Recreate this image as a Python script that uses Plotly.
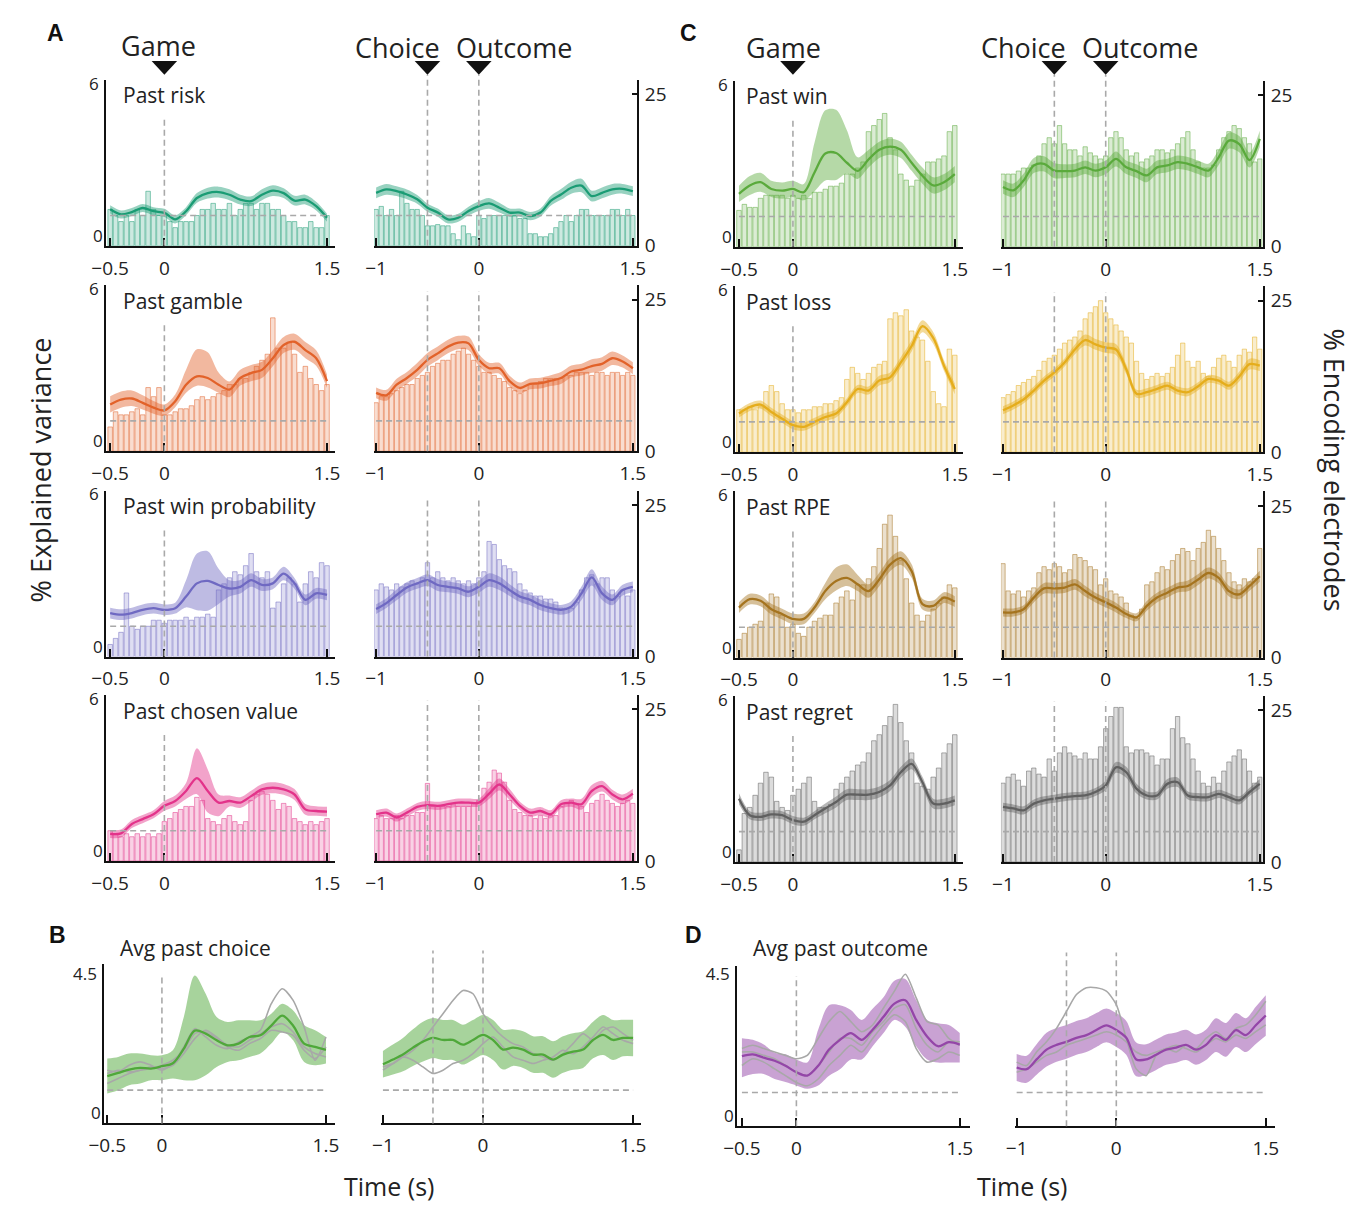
import plotly.graph_objects as go

W, H = 1369, 1215
FONT = "Open Sans"
TXT = "#222222"

LINE_DT = 0.1
BAR_DT = 0.05
GAME_T0 = -0.5
OUT_T0 = -1.0

# ---------------- % explained variance (line, sampled every 0.1 s) ----------------
RISK_G = [1.35,1.16,1.25,1.40,1.28,1.22,0.98,1.28,1.77,1.95,1.99,1.89,1.71,1.65,1.89,2.04,1.95,1.67,1.71,1.47,1.04]
RISK_O = [1.96,2.09,2.02,1.90,1.72,1.41,1.23,0.98,1.04,1.29,1.47,1.57,1.41,1.23,1.23,1.10,1.23,1.66,1.90,2.15,2.23,1.84,1.96,2.09,2.11,2.02]
GAMBLE_G = [1.73,1.91,1.95,1.79,1.61,1.51,1.85,2.46,2.77,2.71,2.46,2.28,2.71,2.89,3.01,3.44,3.93,4.05,3.74,3.44,2.59]
GAMBLE_O = [2.16,2.07,2.46,2.71,3.01,3.38,3.62,3.87,4.02,3.99,3.38,3.07,3.07,2.59,2.34,2.49,2.52,2.61,2.71,2.95,3.02,3.15,3.23,3.44,3.32,3.07]
WINPROB_G = [1.61,1.55,1.61,1.73,1.79,1.73,1.79,2.22,2.71,2.80,2.65,2.52,2.58,2.83,2.65,2.71,3.07,2.71,2.10,2.34,2.28]
WINPROB_O = [1.76,1.98,2.28,2.56,2.71,2.83,2.65,2.58,2.52,2.40,2.58,2.83,2.71,2.46,2.22,2.10,1.91,1.79,1.73,1.85,2.34,2.93,2.34,2.10,2.46,2.58]
CHOSEN_G = [1.00,1.02,1.37,1.55,1.73,2.04,2.22,2.59,3.07,2.59,2.16,2.22,2.16,2.40,2.65,2.71,2.65,2.46,1.91,1.85,1.83]
CHOSEN_O = [1.73,1.79,1.61,1.79,2.00,2.07,2.04,2.10,2.16,2.16,2.16,2.49,2.83,2.46,2.04,1.79,1.85,1.73,2.10,2.16,2.10,2.59,2.77,2.46,2.28,2.49]
WIN_G = [1.96,2.27,2.39,2.14,2.08,2.14,2.02,2.75,3.45,3.47,3.11,2.81,3.23,3.59,3.71,3.59,3.11,2.63,2.27,2.39,2.69]
WIN_O = [2.21,2.09,2.45,3.01,3.07,2.82,2.80,2.82,2.94,2.82,2.94,3.25,2.94,2.80,2.64,2.94,3.01,3.13,3.07,2.94,2.82,3.31,3.93,3.80,3.21,3.99]
LOSS_G = [1.43,1.67,1.76,1.49,1.24,1.00,0.94,1.12,1.30,1.43,1.85,2.34,2.28,2.65,2.77,3.32,3.93,4.66,4.23,3.20,2.34]
LOSS_O = [1.55,1.73,1.95,2.28,2.65,2.95,3.32,3.80,4.15,3.99,3.87,3.80,3.07,2.16,2.22,2.34,2.46,2.28,2.22,2.44,2.71,2.65,2.46,2.80,3.26,3.20]
RPE_G = [1.85,2.16,2.10,1.79,1.61,1.43,1.43,1.85,2.46,2.83,2.95,2.71,2.46,2.89,3.44,3.68,3.20,1.98,1.91,2.22,2.07]
RPE_O = [1.67,1.67,1.79,2.22,2.56,2.56,2.59,2.71,2.46,2.22,2.04,1.85,1.61,1.49,1.91,2.22,2.40,2.59,2.65,2.89,3.13,2.95,2.46,2.34,2.65,3.01]
REGRET_G = [2.34,1.73,1.67,1.76,1.73,1.55,1.49,1.73,1.98,2.22,2.49,2.49,2.49,2.59,2.83,3.32,3.63,2.95,2.16,2.16,2.28]
REGRET_O = [2.04,1.98,1.91,2.16,2.28,2.34,2.40,2.44,2.46,2.59,2.83,3.50,3.32,2.71,2.46,2.46,2.89,2.95,2.46,2.40,2.40,2.52,2.40,2.28,2.59,2.89]

# ---------------- error band (upper / lower offsets) ----------------
RISK_G_ERR = [0.15,0.15,0.15,0.15,0.15,0.15,0.15,0.15,0.18,0.2,0.2,0.2,0.18,0.18,0.2,0.2,0.18,0.18,0.18,0.16,0.15]
RISK_O_ERR = [0.2,0.2,0.18,0.18,0.16,0.15,0.15,0.15,0.15,0.16,0.18,0.2,0.18,0.15,0.15,0.15,0.15,0.18,0.2,0.22,0.25,0.2,0.2,0.2,0.18,0.18]
GAMBLE_G_UP = [0.3,0.3,0.3,0.28,0.25,0.22,0.25,0.55,1.0,0.95,0.45,0.3,0.3,0.3,0.3,0.3,0.3,0.3,0.3,0.3,0.25]
GAMBLE_G_DN = [0.3,0.3,0.28,0.25,0.22,0.2,0.22,0.3,0.35,0.35,0.3,0.28,0.28,0.3,0.3,0.3,0.3,0.3,0.3,0.28,0.25]
GAMBLE_O_ERR = [0.2,0.2,0.22,0.22,0.25,0.25,0.25,0.25,0.25,0.25,0.22,0.2,0.2,0.2,0.2,0.2,0.2,0.2,0.22,0.22,0.22,0.25,0.25,0.25,0.22,0.22]
WINPROB_G_UP = [0.2,0.2,0.2,0.2,0.2,0.2,0.2,0.6,1.1,1.1,0.6,0.3,0.25,0.25,0.22,0.22,0.25,0.2,0.2,0.2,0.2]
WINPROB_G_DN = [0.2,0.2,0.2,0.2,0.2,0.2,0.2,0.4,1.0,1.1,0.7,0.3,0.25,0.25,0.22,0.22,0.25,0.2,0.2,0.2,0.2]
WINPROB_O_ERR = [0.18,0.18,0.2,0.2,0.2,0.22,0.22,0.2,0.2,0.2,0.22,0.25,0.25,0.22,0.2,0.2,0.2,0.18,0.18,0.2,0.25,0.3,0.25,0.2,0.2,0.2]
CHOSEN_G_UP = [0.15,0.15,0.15,0.15,0.15,0.18,0.2,0.3,1.1,0.8,0.3,0.2,0.2,0.2,0.2,0.2,0.2,0.2,0.2,0.18,0.18]
CHOSEN_G_DN = [0.15,0.15,0.15,0.15,0.15,0.18,0.2,0.3,0.6,0.8,0.5,0.2,0.2,0.2,0.2,0.2,0.2,0.2,0.2,0.18,0.18]
CHOSEN_O_ERR = [0.15,0.15,0.15,0.15,0.15,0.15,0.15,0.15,0.15,0.15,0.15,0.2,0.22,0.2,0.15,0.15,0.15,0.15,0.15,0.15,0.2,0.22,0.2,0.18,0.18,0.18]
WIN_G_UP = [0.3,0.35,0.35,0.3,0.3,0.3,0.3,1.1,1.6,1.6,1.2,0.5,0.35,0.3,0.3,0.3,0.3,0.3,0.3,0.3,0.3]
WIN_G_DN = [0.3,0.35,0.35,0.3,0.3,0.3,0.3,0.7,1.0,1.0,0.4,0.3,0.3,0.3,0.3,0.3,0.3,0.3,0.3,0.3,0.3]
WIN_O_ERR = [0.25,0.25,0.25,0.28,0.28,0.28,0.25,0.25,0.25,0.25,0.25,0.28,0.25,0.25,0.25,0.25,0.25,0.25,0.25,0.25,0.25,0.28,0.3,0.3,0.28,0.3]
LOSS_G_ERR = [0.15,0.15,0.15,0.15,0.15,0.15,0.15,0.15,0.15,0.15,0.15,0.15,0.15,0.18,0.18,0.2,0.2,0.22,0.22,0.2,0.2]
LOSS_O_ERR = [0.15,0.15,0.15,0.15,0.15,0.15,0.15,0.18,0.2,0.2,0.2,0.2,0.18,0.15,0.15,0.15,0.15,0.15,0.15,0.15,0.15,0.15,0.15,0.18,0.2,0.2]
RPE_G_UP = [0.2,0.2,0.2,0.2,0.2,0.2,0.2,0.2,0.3,0.5,0.5,0.35,0.25,0.25,0.25,0.25,0.25,0.2,0.2,0.2,0.2]
RPE_G_DN = [0.2,0.2,0.2,0.2,0.2,0.2,0.2,0.2,0.3,0.35,0.3,0.25,0.25,0.25,0.25,0.25,0.25,0.2,0.2,0.2,0.2]
RPE_O_ERR = [0.15,0.15,0.15,0.18,0.2,0.2,0.2,0.2,0.2,0.18,0.18,0.18,0.15,0.15,0.18,0.18,0.18,0.18,0.2,0.2,0.2,0.2,0.2,0.18,0.18,0.2]
REGRET_G_ERR = [0.2,0.15,0.15,0.15,0.15,0.15,0.15,0.15,0.18,0.2,0.2,0.2,0.2,0.2,0.2,0.2,0.2,0.2,0.18,0.18,0.18]
REGRET_O_ERR = [0.15,0.15,0.15,0.15,0.15,0.15,0.15,0.15,0.15,0.15,0.18,0.2,0.2,0.18,0.15,0.15,0.18,0.18,0.15,0.15,0.15,0.15,0.15,0.15,0.15,0.18]

# ---------------- % encoding electrodes (bars, every 0.05 s) ----------------
RISK_G_BARS = [6,5,4,5,4,6,5,9,6,5,5,4,3,4,4,4,5,6,6,7,6,6,7,5,6,7,7,6,7,7,6,6,5,4,4,3,3,4,3,3,5]
RISK_O_BARS = [6,6.5,5,6,5,9,7,6,6,5,3.3,3.3,3.5,3.3,3.3,2,1,3.3,2,1.5,5,4.5,5,5,5,5,5,5,4.5,4.5,2,2,1.5,1.5,2,3,4,5,4,5,6,6,5,5,5,5,6,6,5,6,5]
GAMBLE_G_BARS = [4,6.5,6,6,6.5,7,6,10.5,9,10.5,6,6,6.5,7,7,7.5,8.5,9,8.5,9,9.5,10,11,11,12,12,13,14,15,16,22,17,17,18,16,13,14,12,11,10,11]
GAMBLE_O_BARS = [8,9,9,9.5,10,10.5,11,11,12,12.5,13,14,14.5,15,15,16,16.5,17,16,15,14,13,13,12.5,12,11.5,10.5,10,9.5,10,11,11,11.5,12,12,12,12,12.5,12.5,13,13,13,12.5,13,13,12.5,13,13,12.5,13,12.5]
WINPROB_G_BARS = [2,3,4,10.5,5,4.5,5,5,6,6,5.5,6,6,6,6.5,6,6.5,6.5,7,6.5,11,12,13,14,13.5,15,17,14,13,14,8,9,12,13,12,9,12,14,13,15.5,15]
WINPROB_O_BARS = [11,12,11.5,11,12,11.5,12,12.5,12,13,15.5,13,14,13,12.5,13,12.5,12,12.5,12,13,14,19,18.5,16,15,14.5,14,12,11,10.5,10,10,9.5,9.5,9,8,8,8,9,11,13,13.5,12,13,13,11,10,11,10,11]
CHOSEN_G_BARS = [5,4.5,4,4.5,4,4.5,4,4.5,4,4.5,6.5,7,8,8.5,9,9,10.5,10,7,6.5,6,7,7.5,6.5,6,6.5,10,11,11.5,11,10,8.5,9.5,9,7,6.5,6,6.5,6,6.5,7]
CHOSEN_O_BARS = [7,7.5,7,7,7.5,7,7.5,7.5,8,8,12.8,9,9,9,9,9.5,9,9,9,9.5,10,12,13,15,14.5,13,10,8.5,8,7.5,7.5,7,7.5,7,7.5,7.5,9,9.5,10,9.5,9,8,9.5,10,11,10,9.5,9,9.5,10,9.5]
WIN_G_BARS = [6,7,6.5,6.5,8,8.5,8.5,8.5,8.5,8,8.5,8,8.5,8,9,9,9.5,10,10,10.5,12,12,13,14,19,20,21,22,18,16,12,11,10,11,12,14,14,14.5,15,19,20]
WIN_O_BARS = [12,12,12,12.5,13,13,13.5,15,17,18,17,20,17,16,16,15,16.5,15.5,15,14.5,15,18,19,18,16,15,15.5,14,14.5,15,16,16,15.5,16,17,18,19,16,14,13,13,13.5,16,18,19,20,19.5,18,17,14,14.5]
LOSS_G_BARS = [7,7,7.5,7,7.5,10,11,10,8,7,7,6.5,7,7,7.5,7.5,8,8,8.5,9,12,14,13,12,13,14,14.5,15,22,23,22.5,23.5,20,19,18.5,15,10,8,7.5,17,16]
LOSS_O_BARS = [9,9.5,10,11,11.5,12,12.5,13.5,15,15.5,16,17,18,18.5,19,20,22,23,24,25,23,22,21,20,19,18,15,13,12,12.5,13,12.5,13,14,16,18,15,14,15,13,12.5,14,15.5,16,15,14,16,17,16.5,19,17]
RPE_G_BARS = [3,4,5,5.5,6,9,10.5,10,7,5,5.5,4,3.5,5,6,6.5,7,7,9,10,11,9.5,12,12,13,15,18,22,23.5,20,16,13,9,7,6,7,8,9,10,12,11.5]
RPE_O_BARS = [15.5,11,10.5,11,10,11,11.5,14,15,14.5,15.5,15,14,14.5,17,16.5,16,15,14.5,12,13,11,10.5,10,9,7,6.5,8,12,12.5,14,15,14.5,16,17,18,17.5,16,18,19,21,20,18,16,14,12.5,12,13,12.5,13,18]
REGRET_G_BARS = [2,8,9,11,13,14.8,14,10,9,8.5,11,12,13,14,10,9,9,9.5,12,13,14,15,16,16.5,18,20,21,22.5,24,26,23,20,18,13,12.5,12,14,15.5,18,19.5,21]
REGRET_O_BARS = [13,14,14.5,13.5,12.5,15,15.5,14.5,14,17,15,18,19,18,17.5,17,18,17,17,19,22,24,25.5,25.5,19,18,18.5,18.5,18,17.5,16,17,17,22,24,20.5,19.5,17,15,13,12.5,14,13,15,16.5,17.5,18.5,17,15,13,14]

# ---------------- panels B / D (averages with individual gray traces) ----------------
B_G_LINE = [1.42,1.52,1.62,1.67,1.65,1.72,1.81,2.25,2.79,2.70,2.50,2.35,2.40,2.60,2.65,2.94,3.24,2.94,2.40,2.30,2.21]
B_G_HI = [1.95,2.0,2.1,2.1,2.05,2.05,2.2,3.2,4.45,3.9,3.2,3.05,3.1,3.1,3.1,3.3,3.6,3.4,2.95,2.8,2.6]
B_G_LO = [0.9,1.0,1.15,1.2,1.3,1.3,1.35,1.3,1.3,1.45,1.7,1.85,1.9,2.0,2.1,2.4,2.75,2.5,1.85,1.75,1.8]
B_G_GRAY1 = [1.6,1.55,1.75,1.85,1.75,1.6,1.8,2.3,2.85,2.6,2.35,2.25,2.45,2.6,2.8,3.6,4.05,3.7,2.9,1.9,2.6]
B_G_GRAY2 = [1.2,1.35,1.5,1.6,1.65,1.75,1.9,2.2,2.7,2.75,2.55,2.3,2.2,2.4,2.55,2.8,2.75,2.65,2.2,1.95,2.3]
B_G_GRAY3 = [1.5,1.6,1.55,1.6,1.7,1.65,1.75,2.1,2.55,2.8,2.6,2.35,2.3,2.5,2.7,2.9,3.0,2.75,2.3,2.1,2.0]
B_O_LINE = [1.78,1.92,2.07,2.28,2.46,2.57,2.51,2.51,2.37,2.51,2.66,2.51,2.22,2.28,2.22,2.07,2.07,1.92,2.07,2.16,2.22,2.51,2.66,2.51,2.57,2.57]
B_O_ERR = [0.4,0.45,0.5,0.55,0.6,0.6,0.6,0.6,0.6,0.6,0.6,0.6,0.6,0.55,0.55,0.55,0.55,0.55,0.55,0.55,0.55,0.55,0.6,0.6,0.55,0.55]
B_O_GRAY1 = [1.7,1.8,2.0,2.2,2.5,2.9,3.3,3.7,4.0,3.9,3.3,2.9,2.6,2.4,2.3,2.1,2.0,1.9,2.1,2.4,2.7,2.5,2.8,2.9,2.7,2.5]
B_O_GRAY2 = [1.6,1.8,2.0,1.9,1.7,1.5,1.6,1.8,1.9,2.1,2.4,2.6,2.3,2.0,1.9,1.8,1.9,2.0,2.2,2.1,2.3,2.6,2.9,2.7,2.5,2.4]
D_G_LINE = [2.08,2.13,2.03,1.94,1.79,1.60,1.50,1.79,2.27,2.56,2.76,2.56,2.86,3.24,3.63,3.73,3.15,2.66,2.37,2.49,2.42]
D_G_HI = [2.61,2.56,2.42,2.18,2.13,1.98,1.89,2.86,3.58,3.58,3.44,3.15,3.48,3.82,4.31,4.36,3.73,3.15,3.05,3.0,2.76]
D_G_LO = [1.45,1.55,1.55,1.40,1.31,1.21,1.11,1.21,1.50,1.69,1.98,1.98,2.37,2.76,3.15,2.95,2.37,1.98,1.89,1.89,1.89]
D_G_GRAY1 = [2.3,2.4,2.3,2.2,2.1,2.0,2.1,2.6,3.1,3.4,3.1,2.8,3.0,3.5,4.0,4.5,3.8,3.1,3.0,2.6,2.4]
D_G_GRAY2 = [1.8,2.0,1.9,1.7,1.5,1.3,1.2,1.4,1.8,2.1,2.4,2.2,2.6,3.0,3.3,3.1,2.3,1.9,2.0,2.2,2.1]
D_G_GRAY3 = [2.2,2.2,2.1,2.0,1.8,1.6,1.5,1.8,2.2,2.6,2.6,2.4,2.8,3.1,3.5,3.6,2.9,2.4,2.2,2.5,2.5]
D_O_LINE = [1.74,1.69,1.98,2.27,2.41,2.50,2.62,2.70,2.85,2.99,2.85,2.62,1.98,1.98,2.12,2.27,2.33,2.41,2.27,2.41,2.70,2.56,2.85,2.70,2.99,3.28]
D_O_ERR = [0.4,0.4,0.45,0.5,0.5,0.5,0.5,0.5,0.5,0.5,0.5,0.5,0.5,0.45,0.45,0.45,0.45,0.45,0.45,0.45,0.5,0.5,0.5,0.5,0.55,0.6]
D_O_GRAY1 = [1.9,1.8,2.2,2.5,2.9,3.4,3.9,4.1,4.1,4.0,3.6,2.6,1.7,1.5,2.1,2.3,2.2,2.4,2.3,2.6,2.8,2.6,2.9,3.0,3.3,3.7]
D_O_GRAY2 = [1.6,1.7,1.9,2.1,2.2,2.4,2.5,2.6,2.7,2.8,2.7,2.5,2.2,2.1,2.2,2.3,2.4,2.3,2.2,2.4,2.6,2.5,2.7,2.6,2.8,3.0]

TITLES_A = ["Past risk", "Past gamble", "Past win probability", "Past chosen value"]
TITLES_C = ["Past win", "Past loss", "Past RPE", "Past regret"]
COLORS_A = ["#1a9c74", "#e2622a", "#6f69c2", "#e3338a"]
COLORS_C = ["#5aaa3c", "#e5ad1c", "#a5741f", "#606060"]
GAME_TICKS = [-0.5, 0, 1.5]
OUT_TICKS = [-1, 0, 1.5]
TICK_TEXT_G = ["\u22120.5", "0", "1.5"]
TICK_TEXT_O = ["\u22121", "0", "1.5"]
CHANCE_ELEC = 5
CHANCE_EV = 1


def fx(px):
    return px / W


def fy(py):
    return 1 - py / H


def rgba(hexc, a):
    h = hexc.lstrip('#')
    return "rgba(%d,%d,%d,%s)" % (int(h[0:2], 16), int(h[2:4], 16), int(h[4:6], 16), a)


def add_err(line, up, dn=None):
    dn = up if dn is None else dn
    return [v - d for v, d in zip(line, dn)], [v + u for v, u in zip(line, up)]


A_G = [(RISK_G, RISK_G_ERR, None, RISK_G_BARS), (GAMBLE_G, GAMBLE_G_UP, GAMBLE_G_DN, GAMBLE_G_BARS),
       (WINPROB_G, WINPROB_G_UP, WINPROB_G_DN, WINPROB_G_BARS), (CHOSEN_G, CHOSEN_G_UP, CHOSEN_G_DN, CHOSEN_G_BARS)]
A_O = [(RISK_O, RISK_O_ERR, None, RISK_O_BARS), (GAMBLE_O, GAMBLE_O_ERR, None, GAMBLE_O_BARS),
       (WINPROB_O, WINPROB_O_ERR, None, WINPROB_O_BARS), (CHOSEN_O, CHOSEN_O_ERR, None, CHOSEN_O_BARS)]
C_G = [(WIN_G, WIN_G_UP, WIN_G_DN, WIN_G_BARS), (LOSS_G, LOSS_G_ERR, None, LOSS_G_BARS),
       (RPE_G, RPE_G_UP, RPE_G_DN, RPE_G_BARS), (REGRET_G, REGRET_G_ERR, None, REGRET_G_BARS)]
C_O = [(WIN_O, WIN_O_ERR, None, WIN_O_BARS), (LOSS_O, LOSS_O_ERR, None, LOSS_O_BARS),
       (RPE_O, RPE_O_ERR, None, RPE_O_BARS), (REGRET_O, REGRET_O_ERR, None, REGRET_O_BARS)]

# layout geometry (reference pixels)
A_ROW_BOT = [242, 451, 660, 868]
C_ROW_BOT = [243, 452, 661, 869]
ROW_H = 169
EV_TOP = 6.145
EL_TOP = 27.4

panels = []
for side, (gsets, osets, bots, titles, colors, gx, ox, gxr, oxr, tx) in enumerate([
        (A_G, A_O, A_ROW_BOT, TITLES_A, COLORS_A, (92, 325), (365, 633), (-0.536, 1.572), (-1.02, 1.54), 107),
        (C_G, C_O, C_ROW_BOT, TITLES_C, COLORS_C, (733, 965), (1004, 1271), (-0.536, 1.573), (-1.02, 1.53), 742)]):
    for r in range(4):
        bot = bots[r]
        top = bot - ROW_H
        line, up, dn, bars = gsets[r]
        lo, hi = add_err(line, up, dn)
        panels.append(dict(kind="g", t0=GAME_T0, line=line, lo=lo, hi=hi, bars=bars, grays=[],
                           color=colors[r], xpx=gx, xr=gxr, ypx=(top, bot), evr=EV_TOP, elr=EL_TOP,
                           left=True, right=False, ytop=6,
                           events=[0], dash_top=top + 40, hline=("el", CHANCE_ELEC),
                           title=titles[r], title_x=tx, title_y=top + 16, row=r, side=side))
        line, up, dn, bars = osets[r]
        lo, hi = add_err(line, up, dn)
        panels.append(dict(kind="o", t0=OUT_T0, line=line, lo=lo, hi=hi, bars=bars, grays=[],
                           color=colors[r], xpx=ox, xr=oxr, ypx=(top, bot), evr=EV_TOP, elr=EL_TOP,
                           left=False, right=True, events=[-0.5, 0],
                           dash_top=(68 if r == 0 else top + 6), hline=("el", CHANCE_ELEC),
                           title=None, row=r, side=side))

# B and D
for (gline, ghi, glo, ggrays, oline, oerr, ograys, color, gx, gxr, ox, oxr, top, bot, evtop, tx, title) in [
        (B_G_LINE, B_G_HI, B_G_LO, [B_G_GRAY1, B_G_GRAY2, B_G_GRAY3], B_O_LINE, B_O_ERR, [B_O_GRAY1, B_O_GRAY2],
         "#4fa83a", (90, 325), (-0.527, 1.581), (372, 637), (-1.02, 1.578), 973, 1135, 4.79, 104, "Avg past choice"),
        (D_G_LINE, D_G_HI, D_G_LO, [D_G_GRAY1, D_G_GRAY2, D_G_GRAY3], D_O_LINE, D_O_ERR, [D_O_GRAY1, D_O_GRAY2],
         "#9446a8", (735, 972), (-0.545, 1.59), (1018, 1283), (-1.02, 1.589), 975, 1138, 4.74, 749, "Avg past outcome")]:
    panels.append(dict(kind="g", t0=GAME_T0, line=gline, lo=glo, hi=ghi, bars=None, grays=ggrays,
                       color=color, xpx=gx, xr=gxr, ypx=(top, bot), evr=evtop, elr=EL_TOP,
                       left=True, right=False, ytop=4.5, events=[0], dash_top=top + 10,
                       hline=("ev", CHANCE_EV), title=title, title_x=tx, title_y=957, row=4, side=0,
                       avg=True))
    lo, hi = add_err(oline, oerr)
    panels.append(dict(kind="o", t0=OUT_T0, line=oline, lo=lo, hi=hi, bars=None, grays=ograys,
                       color=color, xpx=ox, xr=oxr, ypx=(top, bot), evr=evtop, elr=EL_TOP,
                       left=False, right=False, events=[-0.5, 0], dash_top=top - 14,
                       hline=("ev", CHANCE_EV), title=None, row=4, side=0, avg=True))

fig = go.Figure()
layout = {}
shapes = []
annotations = []


def aid(prefix, n):
    return prefix if n == 1 else "%s%d" % (prefix, n)


def paper_x(p, t):
    x0, x1 = p["xpx"]
    r0, r1 = p["xr"]
    return fx(x0 + (t - r0) / (r1 - r0) * (x1 - x0))


DASH = "6px,4px"
DASH_COL = "#a9a9a9"
TICKFONT = dict(size=19, color=TXT, family=FONT)
YTICKFONT = dict(size=17, color=TXT, family=FONT)

for k, p in enumerate(panels, start=1):
    xa = aid("x", k)
    yel_n, yev_n = 2 * k - 1, 2 * k
    yel, yev = aid("y", yel_n), aid("y", yev_n)
    top, bot = p["ypx"]
    dom_y = [fy(bot), fy(top)]
    col = p["color"]

    # bars (base axis, drawn first)
    if p["bars"] is not None:
        bx = [p["t0"] + BAR_DT * i for i in range(len(p["bars"]))]
        fig.add_trace(go.Bar(x=bx, y=p["bars"], width=0.042, xaxis=xa, yaxis=yel,
                             marker=dict(color=rgba(col, 0.22), line=dict(color=rgba(col, 0.5), width=1)),
                             showlegend=False, hoverinfo="skip"))
    else:
        fig.add_trace(go.Scatter(x=[], y=[], xaxis=xa, yaxis=yel, showlegend=False))

    lx = [p["t0"] + LINE_DT * i for i in range(len(p["line"]))]
    fig.add_trace(go.Scatter(x=lx, y=p["lo"], xaxis=xa, yaxis=yev, mode="lines",
                             line=dict(width=0, shape="spline", smoothing=0.9, color=col),
                             showlegend=False, hoverinfo="skip"))
    fig.add_trace(go.Scatter(x=lx, y=p["hi"], xaxis=xa, yaxis=yev, mode="lines", fill="tonexty",
                             fillcolor=rgba(col, 0.5 if p.get("avg") else 0.45),
                             line=dict(width=0, shape="spline", smoothing=0.9, color=col),
                             showlegend=False, hoverinfo="skip"))
    for g in p["grays"]:
        fig.add_trace(go.Scatter(x=lx, y=g, xaxis=xa, yaxis=yev, mode="lines",
                                 line=dict(width=1.6, color="#a8a8a8", shape="spline", smoothing=0.7),
                                 showlegend=False, hoverinfo="skip"))
    fig.add_trace(go.Scatter(x=lx, y=p["line"], xaxis=xa, yaxis=yev, mode="lines",
                             line=dict(width=2.3, color=col, shape="spline", smoothing=0.9),
                             showlegend=False, hoverinfo="skip"))

    tv = GAME_TICKS if p["kind"] == "g" else OUT_TICKS
    tt = TICK_TEXT_G if p["kind"] == "g" else TICK_TEXT_O
    layout[aid("xaxis", k)] = dict(
        domain=[fx(p["xpx"][0]), fx(p["xpx"][1])], range=list(p["xr"]), anchor=yel,
        showline=True, linecolor="#111", linewidth=2, ticks="inside", ticklen=8, tickwidth=2,
        tickcolor="#111", tickvals=tv, ticktext=tt, tickfont=TICKFONT, ticklabelstandoff=4,
        showgrid=False, zeroline=False, fixedrange=True)
    yel_ax = dict(domain=dom_y, range=[0, p["elr"]], anchor=xa, side="right", showgrid=False,
                  zeroline=False, fixedrange=True)
    if p["right"]:
        yel_ax.update(showline=True, linecolor="#111", linewidth=2, ticks="inside", ticklen=5,
                      tickwidth=1.5, tickcolor="#111", tickvals=[0, 25], ticktext=["0", "25"],
                      tickfont=TICKFONT, ticklabelstandoff=2)
    else:
        yel_ax.update(visible=False)
    layout[aid("yaxis", yel_n)] = yel_ax
    yev_ax = dict(overlaying=yel, range=[0, p["evr"]], anchor=xa, side="left", showgrid=False,
                  zeroline=False, fixedrange=True)
    if p["left"]:
        yev_ax.update(showline=True, linecolor="#111", linewidth=2, ticks="",
                      tickvals=[p["ytop"]], ticktext=["%g" % p["ytop"]],
                      tickfont=YTICKFONT, ticklabelstandoff=2)
        # the "0" of the left axis sits just above the corner, clear of the x tick labels
        annotations.append(dict(text="0", x=fx(p["xpx"][0]), y=fy(bot), xref="paper", yref="paper",
                                xanchor="right", yanchor="bottom", xshift=-2, yshift=-2,
                                showarrow=False, borderpad=0, font=YTICKFONT))
    else:
        yev_ax.update(visible=False)
    layout[aid("yaxis", yev_n)] = yev_ax

    # event lines
    for t in p["events"]:
        shapes.append(dict(type="line", xref=xa, yref="paper", x0=t, x1=t,
                           y0=fy(bot), y1=fy(p["dash_top"]),
                           line=dict(color=DASH_COL, width=1.6, dash=DASH), layer="above"))
    # chance level
    which, val = p["hline"]
    n_pts = len(p["bars"]) if p["bars"] is not None else len(p["line"])
    step = BAR_DT if p["bars"] is not None else LINE_DT
    shapes.append(dict(type="line", xref=xa, yref=(yel if which == "el" else yev),
                       x0=p["t0"], x1=p["t0"] + step * (n_pts - 1), y0=val, y1=val,
                       line=dict(color=DASH_COL, width=1.6, dash=DASH), layer="above"))
    if p.get("title"):
        annotations.append(dict(text=p["title"], x=fx(p["title_x"]), y=fy(p["title_y"]),
                                xref="paper", yref="paper", xanchor="left", yanchor="middle",
                                showarrow=False, font=dict(size=21, color=TXT, family=FONT)))

# event triangles on the top row
for k, p in enumerate(panels, start=1):
    if p["row"] == 0:
        for t in p["events"]:
            cx = paper_x(p, t)
            hw = 13 / W
            yt, ya = fy(54), fy(68)
            shapes.append(dict(type="path", xref="paper", yref="paper",
                               path="M %f,%f L %f,%f L %f,%f Z" % (cx - hw, yt, cx + hw, yt, cx, ya),
                               fillcolor="#111", line=dict(width=0), layer="above"))

for text, x, y in [("Game", 145, 38), ("Choice", 389, 40), ("Outcome", 508, 40),
                   ("Game", 782, 40), ("Choice", 1027, 40), ("Outcome", 1146, 40)]:
    annotations.append(dict(text=text, x=fx(x), y=fy(y), xref="paper", yref="paper",
                            xanchor="center", yanchor="middle", showarrow=False,
                            font=dict(size=27, color=TXT, family=FONT)))

for text, x, y in [("A", 40, 25), ("B", 42, 943), ("C", 686, 25), ("D", 691, 943)]:
    annotations.append(dict(text="<b>%s</b>" % text, x=fx(x), y=fy(y), xref="paper", yref="paper",
                            xanchor="center", yanchor="middle", showarrow=False,
                            font=dict(size=23, color="#111", family="Liberation Sans")))

annotations.append(dict(text="% Explained variance", x=fx(25), y=fy(470), xref="paper", yref="paper",
                        textangle=-90, showarrow=False, xanchor="center", yanchor="middle",
                        font=dict(size=27, color=TXT, family=FONT)))
annotations.append(dict(text="% Encoding electrodes", x=fx(1344), y=fy(470), xref="paper", yref="paper",
                        textangle=90, showarrow=False, xanchor="center", yanchor="middle",
                        font=dict(size=27, color=TXT, family=FONT)))
for x in (380, 1025):
    annotations.append(dict(text="Time (s)", x=fx(x), y=fy(1199), xref="paper", yref="paper",
                            showarrow=False, xanchor="center", yanchor="middle",
                            font=dict(size=25, color=TXT, family=FONT)))

layout.update(width=W, height=H, margin=dict(l=0, r=0, t=0, b=0), paper_bgcolor="white",
              plot_bgcolor="white", showlegend=False, barmode="overlay", shapes=shapes,
              annotations=annotations, font=dict(family=FONT, color=TXT))
fig.update_layout(**layout)

# Let the figure fill the window exactly (no default body margin, no scrollbars).
PAGE_FIT = ("document.documentElement.style.margin='0';document.documentElement.style.padding='0';"
            "document.documentElement.style.overflow='hidden';"
            "document.body.style.margin='0';document.body.style.padding='0';"
            "document.body.style.overflow='hidden';")
fig.write_html("out.html", post_script=PAGE_FIT, config={"displayModeBar": False})
